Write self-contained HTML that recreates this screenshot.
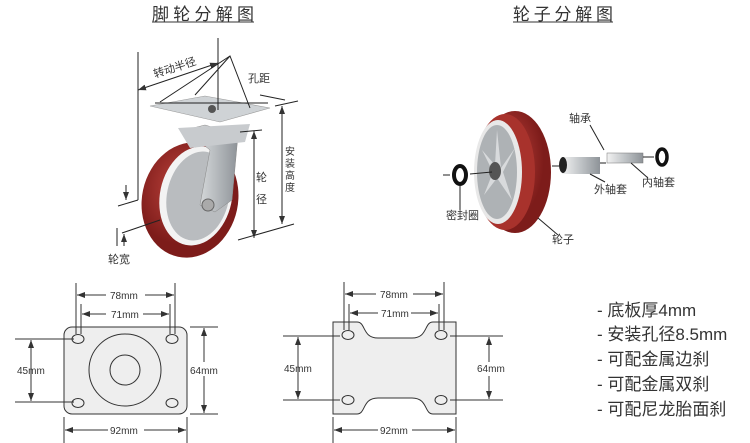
<!DOCTYPE html>
<html><head><meta charset="utf-8"><style>
body{margin:0;background:#fff;width:750px;height:443px;overflow:hidden}
svg{display:block}
text{font-family:"Liberation Sans","Noto Sans CJK SC",sans-serif;fill:#333}
</style></head><body>
<svg width="750" height="443" viewBox="0 0 750 443">
<defs>
<marker id="a" markerWidth="8" markerHeight="6" refX="8" refY="3" orient="auto-start-reverse" markerUnits="userSpaceOnUse"><path d="M0,0 L8,3 L0,6z" fill="#333"/></marker>
<radialGradient id="red" cx="0.4" cy="0.4"><stop offset="0" stop-color="#c0453e"/><stop offset="1" stop-color="#7d1c1a"/></radialGradient>
<linearGradient id="met" x1="0" x2="1"><stop offset="0" stop-color="#f2f2f2"/><stop offset="0.5" stop-color="#bfc3c6"/><stop offset="1" stop-color="#8e9398"/></linearGradient>
</defs>
<!-- titles -->
<text x="152" y="20" font-size="17" textLength="102">脚轮分解图</text>
<line x1="152" y1="22" x2="254" y2="22" stroke="#333"/>
<text x="513" y="20" font-size="17" textLength="100">轮子分解图</text>
<line x1="513" y1="22" x2="613" y2="22" stroke="#333"/>

<!-- caster -->
<g>
<ellipse cx="190" cy="200" rx="48" ry="58" fill="url(#red)" transform="rotate(12 190 200)"/>
<ellipse cx="196" cy="196" rx="36" ry="50" fill="#f3f3f3" transform="rotate(12 196 196)"/>
<ellipse cx="198" cy="196" rx="31" ry="45" fill="#b9bcbf" transform="rotate(12 198 196)"/>
<path d="M185,130 L205,125 L238,135 L232,200 L215,212 L200,205 L210,150 Z" fill="url(#met)" stroke="#888" stroke-width="0.5"/>
<path d="M178,128 L250,124 L245,142 L190,148 Z" fill="#c8cbce"/>
<polygon points="150,106 205,96 270,108 220,122" fill="#cfd3d6" stroke="#999" stroke-width="0.6"/>
<circle cx="212" cy="109" r="4" fill="#555"/>
<circle cx="208" cy="205" r="6" fill="#aaa" stroke="#666"/>
</g>
<g stroke="#222" stroke-width="1" fill="none">
<line x1="138" y1="52" x2="138" y2="200"/>
<line x1="218" y1="38" x2="218" y2="110"/>
<line x1="138" y1="90" x2="218" y2="63" marker-start="url(#a)" marker-end="url(#a)"/>
<path d="M160,102 L230,56 L250,108"/><path d="M195,95 L230,56"/>
<line x1="155" y1="103" x2="268" y2="103"/>
<line x1="260" y1="95" x2="285" y2="100"/>
<line x1="275" y1="106" x2="298" y2="101"/>
<line x1="254" y1="131" x2="254" y2="238" marker-start="url(#a)" marker-end="url(#a)"/>
<line x1="240" y1="132" x2="262" y2="130"/>
<line x1="282" y1="106" x2="282" y2="224" marker-start="url(#a)" marker-end="url(#a)"/>
<line x1="238" y1="240" x2="294" y2="224"/>
<line x1="118" y1="206" x2="138" y2="200"/>
<line x1="126" y1="185" x2="126" y2="200" marker-end="url(#a)"/>
<line x1="122" y1="233" x2="160" y2="220"/>
<line x1="117" y1="228" x2="117" y2="246"/>
<line x1="124" y1="246" x2="124" y2="234" marker-end="url(#a)"/>
</g>
<text x="155" y="78" font-size="11" transform="rotate(-18 155 78)">转动半径</text>
<text x="248" y="82" font-size="11">孔距</text>
<text x="256" y="181" font-size="11">轮</text>
<text x="256" y="203" font-size="11">径</text>
<text x="285" y="155" font-size="10">安</text>
<text x="285" y="167" font-size="10">装</text>
<text x="285" y="179" font-size="10">高</text>
<text x="285" y="191" font-size="10">度</text>
<text x="108" y="263" font-size="11">轮宽</text>

<!-- exploded wheel -->
<g>
<ellipse cx="515" cy="172" rx="36" ry="61" fill="url(#red)"/>
<ellipse cx="505" cy="172" rx="30" ry="58" fill="#a8322c"/>
<ellipse cx="498" cy="172" rx="24" ry="52" fill="#e8e8e8"/>
<ellipse cx="497" cy="172" rx="20" ry="47" fill="#aeb2b5"/>
<path d="M497,130 L501,168 L515,148 L503,172 L512,200 L497,178 L484,195 L493,172 L482,150 L495,165 Z" fill="#d8dadc"/>
<ellipse cx="495" cy="171" rx="6" ry="9" fill="#555"/>
<ellipse cx="460" cy="175" rx="6" ry="9" fill="none" stroke="#111" stroke-width="4"/>
<rect x="562" y="157" width="38" height="17" fill="url(#met)"/>
<ellipse cx="563" cy="165" rx="4" ry="8" fill="#222"/>
<rect x="607" y="153" width="36" height="10" fill="url(#met)" stroke="#777" stroke-width="0.5"/>
<ellipse cx="662" cy="157" rx="5" ry="8" fill="none" stroke="#111" stroke-width="3.5"/>
</g>
<g stroke="#222" stroke-width="1">
<line x1="443" y1="175" x2="450" y2="175"/><line x1="470" y1="174" x2="492" y2="172"/>
<line x1="460" y1="186" x2="460" y2="210"/>
<line x1="538" y1="218" x2="558" y2="235"/>
<line x1="552" y1="166" x2="560" y2="166"/>
<line x1="590" y1="125" x2="604" y2="150"/>
<line x1="600" y1="163" x2="606" y2="163"/>
<line x1="590" y1="174" x2="605" y2="182"/>
<line x1="631" y1="163" x2="648" y2="178"/>
<line x1="643" y1="157" x2="654" y2="157"/>
</g>
<text x="569" y="122" font-size="11">轴承</text>
<text x="594" y="193" font-size="11">外轴套</text>
<text x="642" y="186" font-size="11">内轴套</text>
<text x="446" y="219" font-size="11">密封圈</text>
<text x="552" y="243" font-size="11">轮子</text>

<!-- left plate -->
<g stroke="#333" stroke-width="1" fill="none">
<rect x="64" y="327" width="123" height="87" rx="8" fill="#eeeeee"/>
<circle cx="125" cy="370" r="36"/><circle cx="125" cy="370" r="15"/>
<ellipse cx="78" cy="339" rx="6" ry="4.5"/><ellipse cx="172" cy="339" rx="6" ry="4.5"/>
<ellipse cx="78" cy="403" rx="6" ry="4.5"/><ellipse cx="172" cy="403" rx="6" ry="4.5"/>
<line x1="76" y1="283" x2="76" y2="334"/><line x1="175" y1="283" x2="175" y2="334"/>
<line x1="81" y1="304" x2="81" y2="334"/><line x1="170" y1="304" x2="170" y2="334"/>
<line x1="77" y1="295" x2="106" y2="295" marker-start="url(#a)"/><line x1="145" y1="295" x2="174" y2="295" marker-end="url(#a)"/>
<line x1="82" y1="314" x2="106" y2="314" marker-start="url(#a)"/><line x1="143" y1="314" x2="169" y2="314" marker-end="url(#a)"/>
<line x1="15" y1="339" x2="74" y2="339"/><line x1="15" y1="402" x2="74" y2="402"/>
<line x1="31" y1="340" x2="31" y2="401" marker-start="url(#a)" marker-end="url(#a)"/>
<line x1="190" y1="327" x2="218" y2="327"/><line x1="190" y1="414" x2="218" y2="414"/>
<line x1="204" y1="328" x2="204" y2="413" marker-start="url(#a)" marker-end="url(#a)"/>
<line x1="64" y1="417" x2="64" y2="443"/><line x1="187" y1="417" x2="187" y2="443"/>
<line x1="65" y1="430" x2="108" y2="430" marker-start="url(#a)"/><line x1="144" y1="430" x2="186" y2="430" marker-end="url(#a)"/>
</g>
<rect x="190" y="362" width="28" height="14" fill="#fff"/>
<text x="110" y="299" font-size="10">78mm</text>
<text x="111" y="318" font-size="10">71mm</text>
<text x="17" y="374" font-size="10">45mm</text>
<text x="190" y="374" font-size="10">64mm</text>
<text x="110" y="434" font-size="10">92mm</text>

<!-- right plate -->
<g stroke="#333" stroke-width="1" fill="none">
<path d="M333,322 L357,322 C366,322 362,338 378,338 L412,338 C428,338 424,322 433,322 L456,322 L456,414 L433,414 C424,414 428,398 412,398 L378,398 C362,398 366,414 357,414 L333,414 Z" fill="#eeeeee"/>
<ellipse cx="348" cy="335" rx="6" ry="4.5"/><ellipse cx="441" cy="335" rx="6" ry="4.5"/>
<ellipse cx="348" cy="400" rx="6" ry="4.5"/><ellipse cx="441" cy="400" rx="6" ry="4.5"/>
<line x1="344" y1="282" x2="344" y2="330"/><line x1="444" y1="282" x2="444" y2="330"/>
<line x1="349" y1="304" x2="349" y2="330"/><line x1="439" y1="304" x2="439" y2="330"/>
<line x1="345" y1="294" x2="376" y2="294" marker-start="url(#a)"/><line x1="413" y1="294" x2="443" y2="294" marker-end="url(#a)"/>
<line x1="350" y1="313" x2="378" y2="313" marker-start="url(#a)"/><line x1="411" y1="313" x2="438" y2="313" marker-end="url(#a)"/>
<line x1="283" y1="336" x2="340" y2="336"/><line x1="283" y1="400" x2="340" y2="400"/>
<line x1="298" y1="337" x2="298" y2="399" marker-start="url(#a)" marker-end="url(#a)"/>
<line x1="450" y1="336" x2="503" y2="336"/><line x1="450" y1="400" x2="503" y2="400"/>
<line x1="489" y1="337" x2="489" y2="399" marker-start="url(#a)" marker-end="url(#a)"/>
<line x1="333" y1="417" x2="333" y2="443"/><line x1="456" y1="417" x2="456" y2="443"/>
<line x1="334" y1="430" x2="378" y2="430" marker-start="url(#a)"/><line x1="412" y1="430" x2="455" y2="430" marker-end="url(#a)"/>
</g>
<rect x="476" y="362" width="28" height="14" fill="#fff"/>
<text x="380" y="298" font-size="10">78mm</text>
<text x="381" y="317" font-size="10">71mm</text>
<text x="284" y="372" font-size="10">45mm</text>
<text x="477" y="372" font-size="10">64mm</text>
<text x="380" y="434" font-size="10">92mm</text>

<!-- bullets -->
<g font-size="17">
<text x="597" y="316">-  底板厚4mm</text>
<text x="597" y="340">-  安装孔径8.5mm</text>
<text x="597" y="365">-  可配金属边刹</text>
<text x="597" y="390">-  可配金属双刹</text>
<text x="597" y="415">-  可配尼龙胎面刹</text>
</g>
</svg>
</body></html>
